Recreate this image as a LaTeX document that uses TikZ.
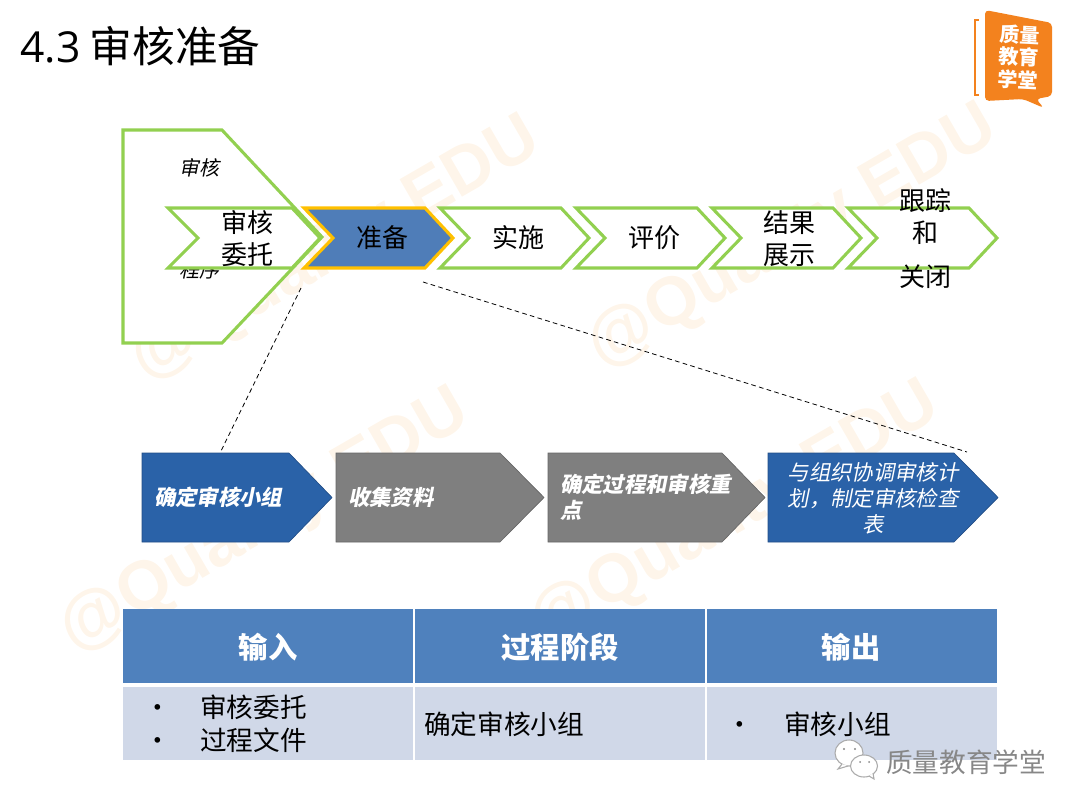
\documentclass[tikz,border=0pt]{standalone}
\usepackage{fontspec}
\setmainfont{Noto Sans CJK SC}
\newfontfamily\titlefont{Open Sans}
\newfontfamily\slantfont[FakeSlant=0.2]{Noto Sans CJK SC}
\newfontfamily\markfont{Liberation Sans}
\definecolor{chevgreen}{RGB}{146,208,80}
\definecolor{chevyellow}{RGB}{255,192,0}
\definecolor{chevblue}{RGB}{79,125,184}
\definecolor{stepblue}{RGB}{42,98,168}
\definecolor{stepgray}{RGB}{127,127,127}
\definecolor{headblue}{RGB}{79,129,189}
\definecolor{bodyblue}{RGB}{208,216,232}
\definecolor{logoorange}{RGB}{243,130,30}
\definecolor{markorange}{RGB}{254,245,234}
\definecolor{signgray}{RGB}{135,135,135}
\tikzset{
  chevline/.style={draw=chevgreen,line width=2.3pt,fill=white,line join=miter},
  stepblueshape/.style={draw=stepblue!80!black,line width=0.5pt,fill=stepblue},
  stepgrayshape/.style={draw=stepgray!80!black,line width=0.5pt,fill=stepgray},
  chevtext/.style={inner sep=0.75pt,align=center,font=\fontsize{19.5}{24}\selectfont},
  steptext/.style={inner sep=0.75pt,color=white,anchor=west,font=\fontsize{16}{19.5}\slantfont\bfseries},
  headtext/.style={inner sep=0.75pt,color=white,font=\fontsize{22}{26}\selectfont\bfseries},
  celltext/.style={inner sep=0.75pt,anchor=west,font=\fontsize{20}{24}\selectfont},
  marktext/.style={inner sep=0pt,color=markorange,rotate=30,font=\fontsize{51}{51}\markfont\bfseries},
  signbubble/.style={draw=signgray!70,line width=0.8pt,fill=white},
}
\begin{document}
\begin{tikzpicture}[x=0.75pt,y=0.75pt,yscale=-1,xscale=1]
\useasboundingbox (0,0) rectangle (1080,810);

% Watermark
\draw (336,250) node (mark1) [marktext] {@Quality EDU};
\draw (793,238) node (mark2) [marktext] {@Quality EDU};
\draw (265,522) node (mark3) [marktext] {@Quality EDU};
\draw (735,515) node (mark4) [marktext] {@Quality EDU};

% Text Node
\draw (19,46) node (title) [anchor=west,inner sep=0.75pt,font=\fontsize{32}{36}\selectfont] {{\titlefont 4.3} 审核准备};

%Big Chevron
\draw [chevline] (123,130) -- (222,130) -- (322,237) -- (222,343) -- (123,343) -- cycle ;
% Text Node
\draw (199,168) node (shenhe) [inner sep=0.75pt,font=\fontsize{15}{18}\slantfont] {审核};
\draw (199,270) node (chengxu) [inner sep=0.75pt,font=\fontsize{15}{18}\slantfont] {程序};

%Top Chevrons
\draw [chevline] (168,208) -- (292,208) -- (320,238) -- (292,268) -- (168,268) -- (198,238) -- cycle ;
\draw [draw=chevyellow,line width=2.3pt,fill=chevblue] (304,208) -- (425,208) -- (453,238) -- (425,268) -- (304,268) -- (333,238) -- cycle ;
\draw [chevline] (440,208) -- (561,208) -- (589,238) -- (561,268) -- (440,268) -- (469,238) -- cycle ;
\draw [chevline] (576,208) -- (697,208) -- (725,238) -- (697,268) -- (576,268) -- (605,238) -- cycle ;
\draw [chevline] (712,208) -- (833,208) -- (861,238) -- (833,268) -- (712,268) -- (741,238) -- cycle ;
\draw [chevline] (848,208) -- (969,208) -- (997,238) -- (969,268) -- (848,268) -- (877,238) -- cycle ;

% Text Node
\draw (247,238.5) node (weituo) [chevtext] {审核\\委托};
\draw (382,238) node (zhunbei) [chevtext] {准备};
\draw (518,238) node (shishi) [chevtext] {实施};
\draw (654,238) node (pingjia) [chevtext] {评价};
\draw (789,238.5) node (jieguo) [chevtext] {结果\\展示};
\draw (925,239) node (genzong) [chevtext] {跟踪\\[0pt]和\\[9pt]关闭};

%Bottom Arrows
\draw [stepblueshape] (142,453) -- (289,453) -- (332,497.5) -- (289,542) -- (142,542) -- cycle ;
\draw [stepgrayshape] (336,453) -- (500,453) -- (544,497.5) -- (500,542) -- (336,542) -- cycle ;
\draw [stepgrayshape] (548,453) -- (722,453) -- (765,497.5) -- (722,542) -- (548,542) -- cycle ;
\draw [stepblueshape] (768,453) -- (954,453) -- (998,497.5) -- (954,542) -- (768,542) -- cycle ;

% Text Node
\draw (153,497) node (xiaozu) [steptext] {确定审核小组};
\draw (347,497) node (ziliao) [steptext] {收集资料};
\draw (559,497) node (zhongdian) [steptext,align=left] {确定过程和审核重\\点};
\draw (873,498) node (jihua) [steptext,anchor=center,align=center,font=\fontsize{16}{19.5}\slantfont] {与组织协调审核计\\划，制定审核检查\\表};

%Straight Lines
\coordinate (zoomleft) at (301,288);
\coordinate (zoomright) at (423,282);
\coordinate (stepleft) at (220,453);
\coordinate (stepright) at (967,452);
\draw [dash pattern={on 3.5pt off 2.5pt},line width=0.6pt] (zoomleft) -- (stepleft) ;
\draw [dash pattern={on 3.5pt off 2.5pt},line width=0.6pt] (zoomright) -- (stepright) ;

%Table
\fill [headblue] (123,609) rectangle (413,683) ;
\fill [headblue] (415,609) rectangle (705,683) ;
\fill [headblue] (707,609) rectangle (997,683) ;
\fill [bodyblue] (123,687) rectangle (413,760) ;
\fill [bodyblue] (415,687) rectangle (705,760) ;
\fill [bodyblue] (707,687) rectangle (997,760) ;

% Text Node
\draw (268,647) node (shuru) [headtext] {输入};
\draw (560,647) node (jieduan) [headtext] {过程阶段};
\draw (851,647) node (shuchu) [headtext] {输出};
\draw (143,711) node (bulleta) [celltext] {•};
\draw (143,744) node (bulletb) [celltext] {•};
\draw (199,707) node (cella) [celltext] {审核委托};
\draw (199,740) node (cellb) [celltext] {过程文件};
\draw (423,724) node (cellc) [celltext] {确定审核小组};
\draw (725,728) node (bulletc) [celltext] {•};
\draw (783,724) node (celld) [celltext] {审核小组};

%Logo
\draw [logoorange,line width=1.6pt] (979,20) -- (975,20) -- (975,95) -- (979,95) ;
\fill [logoorange,rounded corners=3pt] (985,10) -- (1052,23) -- (1052,96) -- (1036,99) -- (1044,108) -- (1023,99) -- (985,101) -- cycle ;
\draw (1019,57) node (logotext) [inner sep=0pt,color=white,align=center,rotate=-3,font=\fontsize{15}{17}\selectfont\bfseries] {质量\\教育\\学堂};

%Sign
\draw [signbubble] (849,753) ellipse (14 and 13) ;
\draw [signbubble] (842,764) -- (838,769) -- (848,766) ;
\fill [signgray] (844,749) circle (1.1) ;
\fill [signgray] (855,749) circle (1.1) ;
\draw [signbubble] (864,766) ellipse (13.5 and 11) ;
\draw [signbubble] (869,776) -- (874,779) -- (873,773) ;
\fill [signgray] (860,762) circle (1) ;
\fill [signgray] (869,762) circle (1) ;
\draw (885,762) node (signtext) [anchor=west,inner sep=0.75pt,color=signgray,font=\fontsize{20}{24}\selectfont] {质量教育学堂};

\end{tikzpicture}
\end{document}
